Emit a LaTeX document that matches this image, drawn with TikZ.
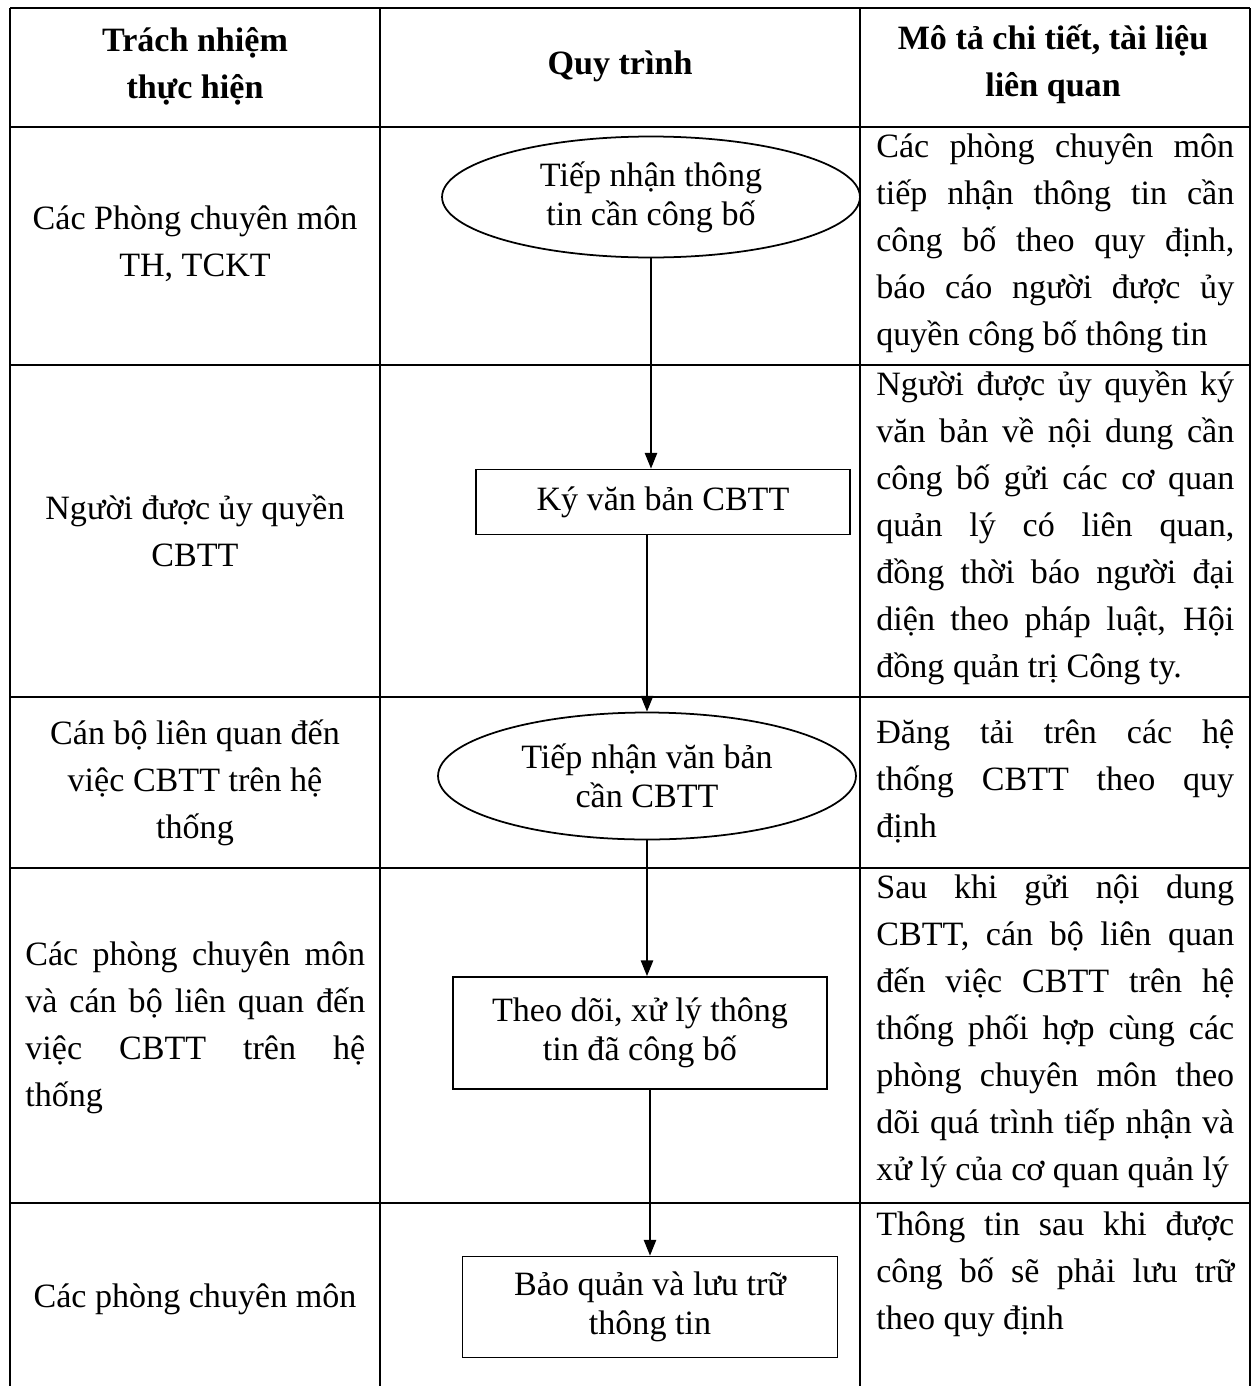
\documentclass[tikz,border=0pt]{standalone}
\usepackage{fontspec}
\setmainfont{Liberation Serif}
\usetikzlibrary{shapes.geometric,arrows.meta}
\newcommand{\body}{\fontsize{19.4pt}{26.8pt}\selectfont}
\newcommand{\boxfont}{\fontsize{19.4pt}{22.2pt}\selectfont}
\newcommand{\fl}[2][7.16cm]{\makebox[#1][s]{#2}}

\begin{document}
\begin{tikzpicture}[x=0.02cm,y=-0.02cm,
  grid/.style={line width=1.1pt},
  oval/.style={ellipse,draw,line width=1pt,inner sep=0pt,font=\boxfont,align=center},
  stepbox/.style={rectangle,draw,line width=1pt,inner sep=0pt,font=\boxfont,align=center},
  flow/.style={-{Triangle[length=9pt,width=7pt]},line width=1pt},
  desc/.style={anchor=north west,inner sep=0pt,font=\body,align=left},
  who/.style={inner sep=0pt,font=\body,align=center}]
\useasboundingbox (0,0) rectangle (1252,1386);
\draw[grid] (10,8) -- (1250,8);
\draw[grid] (10,127) -- (1250,127);
\draw[grid] (10,365) -- (1250,365);
\draw[grid] (10,697) -- (1250,697);
\draw[grid] (10,868) -- (1250,868);
\draw[grid] (10,1203) -- (1250,1203);
\draw[grid] (10,8) -- (10,1386);
\draw[grid] (380,8) -- (380,1386);
\draw[grid] (860,8) -- (860,1386);
\draw[grid] (1250,8) -- (1250,1386);

\node[who,font=\body\bfseries] (h1) at (195,66) {Trách nhiệm\\thực hiện};
\node[who,font=\body\bfseries] (h2) at (620,66) {Quy trình};
\node[who,font=\body\bfseries] (h3) at (1053,64) {Mô tả chi tiết, tài liệu\\liên quan};

\node[who] (w1) at (195,244) {Các Phòng chuyên môn\\TH, TCKT};
\node[who] (w2) at (195,531) {Người được ủy quyền\\CBTT};
\node[who] (w3) at (195,783) {Cán bộ liên quan đến\\việc CBTT trên hệ\\thống};
\node[desc] (w4) at (25,932) {\strut\fl[6.8cm]{Các phòng chuyên môn}\\\fl[6.8cm]{và cán bộ liên quan đến}\\\fl[6.8cm]{việc CBTT trên hệ}\\thống};
\node[who] (w5) at (195,1299) {Các phòng chuyên môn};

\node[oval,minimum width=8.36cm,minimum height=2.42cm] (e1) at (651,197) {Tiếp nhận thông\\tin cần công bố};
\node[stepbox,minimum width=7.48cm,minimum height=1.3cm] (r2) at (663,502) {Ký văn bản CBTT};
\node[oval,minimum width=8.36cm,minimum height=2.54cm] (e2) at (647,776) {Tiếp nhận văn bản\\cần CBTT};
\node[stepbox,minimum width=7.48cm,minimum height=2.24cm] (r3) at (640,1033) {Theo dõi, xử lý thông\\tin đã công bố};
\node[stepbox,minimum width=7.5cm,minimum height=2.02cm] (r4) at (650,1307) {Bảo quản và lưu trữ\\thông tin};

\draw[flow] (e1.south) -- (e1.south |- r2.north);
\draw[flow] (e2.north |- r2.south) -- (e2.north);
\draw[flow] (e2.south) -- (e2.south |- r3.north);
\draw[flow] (r4.north |- r3.south) -- (r4.north);

\node[desc] (d1) at (876,124) {\strut\fl{Các phòng chuyên môn}\\\fl{tiếp nhận thông tin cần}\\\fl{công bố theo quy định,}\\\fl{báo cáo người được ủy}\\quyền công bố thông tin};
\node[desc] (d2) at (876,362) {\strut\fl{Người được ủy quyền ký}\\\fl{văn bản về nội dung cần}\\\fl{công bố gửi các cơ quan}\\\fl{quản lý có liên quan,}\\\fl{đồng thời báo người đại}\\\fl{diện theo pháp luật, Hội}\\đồng quản trị Công ty.};
\node[desc] (d3) at (876,710) {\strut\fl{Đăng tải trên các hệ}\\\fl{thống CBTT theo quy}\\định};
\node[desc] (d4) at (876,865) {\strut\fl{Sau khi gửi nội dung}\\\fl{CBTT, cán bộ liên quan}\\\fl{đến việc CBTT trên hệ}\\\fl{thống phối hợp cùng các}\\\fl{phòng chuyên môn theo}\\\fl{dõi quá trình tiếp nhận và}\\xử lý của cơ quan quản lý};
\node[desc] (d5) at (876,1202) {\strut\fl{Thông tin sau khi được}\\\fl{công bố sẽ phải lưu trữ}\\theo quy định};
\end{tikzpicture}
\end{document}
